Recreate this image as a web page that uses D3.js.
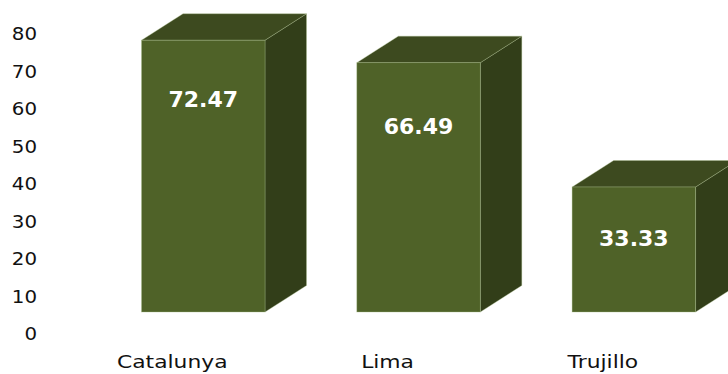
<!DOCTYPE html>
<html>
<head>
<meta charset="utf-8">
<script src="https://cdn.jsdelivr.net/npm/d3@7/dist/d3.min.js"></script>
<style>
  html, body { margin: 0; padding: 0; background: #ffffff; }
  svg { display: block; }
</style>
</head>
<body>
<svg id="chart" width="728" height="374"></svg>
<script>
// ---- data ----
const categories = ["Catalunya", "Lima", "Trujillo"];
const values = [72.47, 66.49, 33.33];
const valueLabels = ["72.47", "66.49", "33.33"];
const yTicks = [0, 10, 20, 30, 40, 50, 60, 70, 80];

// ---- layout ----
const W = 728, H = 374;
const depthX = 41.5, depthY = 26.5;
const labelDy = [59, 64, 51];

const svg = d3.select("#chart");

const x = d3.scaleBand()
  .domain(categories)
  .range([95.6, 741.5])
  .paddingInner(0.4264)
  .paddingOuter(0.2132);

const yBar = d3.scaleLinear().domain([0, 80]).range([312, 12]);
const yAxisScale = d3.scaleLinear().domain([0, 80]).range([334, 34]);

// axis
const axisG = svg.append("g")
  .attr("transform", "translate(37,0)")
  .call(d3.axisLeft(yAxisScale).tickValues(yTicks).tickSize(0).tickPadding(0).tickFormat(d3.format("d")));
axisG.select(".domain").remove();
axisG.selectAll("text")
  .attr("font-family", "DejaVu Sans, Verdana, sans-serif")
  .attr("font-size", 18)
  .attr("fill", "#111")
  .attr("transform", "scale(1.1,1)");

// bars
const colFront = "#4f6228", colTop = "#3d4a1f", colSide = "#323e19";
const edge = "rgba(170,190,140,0.45)";

const bars = svg.append("g").selectAll("g.bar")
  .data(categories.map((c, i) => ({ c, v: values[i], label: valueLabels[i], i })))
  .join("g").attr("class", "bar");

bars.each(function(d) {
  const g = d3.select(this);
  const x0 = x(d.c), x1 = x0 + x.bandwidth();
  const top = yBar(d.v), bot = yBar(0);
  g.append("path")
    .attr("d", `M${x1},${top}L${x1 + depthX},${top - depthY}L${x1 + depthX},${bot - depthY}L${x1},${bot}Z`)
    .attr("fill", colSide).attr("stroke", edge).attr("stroke-width", 0.8);
  g.append("path")
    .attr("d", `M${x0},${top}L${x0 + depthX},${top - depthY}L${x1 + depthX},${top - depthY}L${x1},${top}Z`)
    .attr("fill", colTop).attr("stroke", edge).attr("stroke-width", 0.8);
  g.append("rect")
    .attr("x", x0).attr("y", top)
    .attr("width", x1 - x0).attr("height", bot - top)
    .attr("fill", colFront).attr("stroke", edge).attr("stroke-width", 0.8);
  g.append("text")
    .attr("x", (x0 + x1) / 2)
    .attr("y", top + labelDy[d.i])
    .attr("text-anchor", "middle")
    .attr("dominant-baseline", "central")
    .attr("font-family", "DejaVu Sans, Verdana, sans-serif")
    .attr("font-weight", "bold")
    .attr("font-size", 22)
    .attr("fill", "#ffffff")
    .text(d.label);
});

// category labels
svg.append("g").selectAll("text")
  .data(categories)
  .join("text")
  .attr("transform", d => `translate(${x(d) + x.bandwidth() / 2 - 31},368) scale(1.18,1)`)
  .attr("text-anchor", "middle")
  .attr("font-family", "DejaVu Sans, Verdana, sans-serif")
  .attr("font-size", 18.5)
  .attr("fill", "#111")
  .text(d => d);
</script>
</body>
</html>
